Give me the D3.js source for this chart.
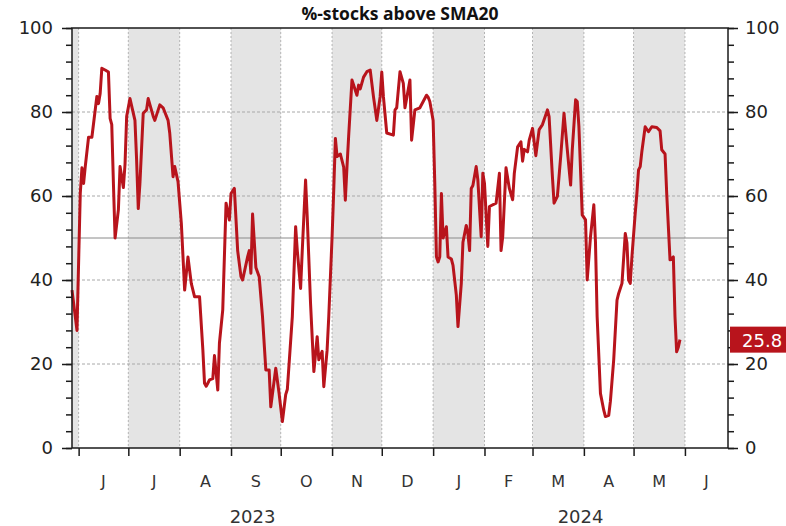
<!DOCTYPE html>
<html>
<head>
<meta charset="utf-8">
<script src="https://cdn.jsdelivr.net/npm/d3@7"></script>
<style>
  body { margin: 0; background: #fff; }
  svg { display: block; }
</style>
</head>
<body>
<svg width="786" height="526"></svg>
<script>
// values
const dates = [
  "2023-05-28","2023-05-31","2023-06-02","2023-06-03","2023-06-04","2023-06-05","2023-06-07","2023-06-09",
  "2023-06-12","2023-06-13","2023-06-14","2023-06-15","2023-06-17","2023-06-19","2023-06-20","2023-06-21",
  "2023-06-22","2023-06-23","2023-06-25","2023-06-26","2023-06-28","2023-06-29","2023-06-30","2023-07-02",
  "2023-07-05","2023-07-06","2023-07-07","2023-07-08","2023-07-10","2023-07-12","2023-07-13","2023-07-16",
  "2023-07-17","2023-07-20","2023-07-22","2023-07-25","2023-07-26","2023-07-28","2023-07-29","2023-07-31",
  "2023-08-02","2023-08-04","2023-08-06","2023-08-08","2023-08-10","2023-08-13","2023-08-15","2023-08-16",
  "2023-08-17","2023-08-19","2023-08-21","2023-08-22","2023-08-24","2023-08-25","2023-08-27","2023-08-29",
  "2023-08-31","2023-09-01","2023-09-03","2023-09-05","2023-09-07","2023-09-08","2023-09-11","2023-09-12",
  "2023-09-13","2023-09-14","2023-09-16","2023-09-18","2023-09-20","2023-09-22","2023-09-24","2023-09-25",
  "2023-09-28","2023-09-30","2023-10-02","2023-10-04","2023-10-05","2023-10-08","2023-10-10","2023-10-11",
  "2023-10-13","2023-10-14","2023-10-16","2023-10-17","2023-10-19","2023-10-21","2023-10-23","2023-10-24",
  "2023-10-26","2023-10-27","2023-10-29","2023-10-30","2023-11-01","2023-11-02","2023-11-03","2023-11-04",
  "2023-11-06","2023-11-08","2023-11-09","2023-11-10","2023-11-11","2023-11-13","2023-11-16","2023-11-17",
  "2023-11-18","2023-11-20","2023-11-22","2023-11-24","2023-11-25","2023-11-26","2023-11-28","2023-11-30",
  "2023-12-01","2023-12-02","2023-12-04","2023-12-08","2023-12-09","2023-12-10","2023-12-12","2023-12-14",
  "2023-12-15","2023-12-18","2023-12-19","2023-12-21","2023-12-24","2023-12-26","2023-12-28","2023-12-29",
  "2023-12-30","2024-01-01","2024-01-02","2024-01-03","2024-01-04","2024-01-05","2024-01-06","2024-01-07",
  "2024-01-09","2024-01-10","2024-01-12","2024-01-13","2024-01-15","2024-01-16","2024-01-18","2024-01-19",
  "2024-01-21","2024-01-22","2024-01-23","2024-01-24","2024-01-25","2024-01-27","2024-01-28","2024-01-30",
  "2024-01-31","2024-02-01","2024-02-03","2024-02-04","2024-02-08","2024-02-10","2024-02-11","2024-02-12",
  "2024-02-14","2024-02-16","2024-02-18","2024-02-19","2024-02-21","2024-02-23","2024-02-24","2024-02-25",
  "2024-02-27","2024-02-28","2024-03-01","2024-03-03","2024-03-05","2024-03-07","2024-03-10","2024-03-11",
  "2024-03-13","2024-03-14","2024-03-16","2024-03-18","2024-03-20","2024-03-22","2024-03-24","2024-03-25",
  "2024-03-27","2024-03-28","2024-03-29","2024-03-31","2024-04-02","2024-04-03","2024-04-05","2024-04-07",
  "2024-04-08","2024-04-09","2024-04-11","2024-04-13","2024-04-14","2024-04-16","2024-04-17","2024-04-19",
  "2024-04-21","2024-04-22","2024-04-24","2024-04-26","2024-04-27","2024-04-28","2024-04-29","2024-04-30",
  "2024-05-02","2024-05-03","2024-05-04","2024-05-05","2024-05-06","2024-05-08","2024-05-10","2024-05-12",
  "2024-05-15","2024-05-17","2024-05-18","2024-05-20","2024-05-21","2024-05-23","2024-05-25","2024-05-26",
  "2024-05-27","2024-05-28","2024-05-29"
];
const values = [
  37.6,28,60.7,66.7,63,67,74,74,
  83.7,82,84.4,90.4,90,89.5,78.5,77,
  63,50,56.7,67,62,67.5,79,83.2,
  78,68.6,57,63,79.7,80.5,83.2,79,
  78,81.7,81,78,75,64.6,67,63.4,
  53.5,37.6,45.5,39.2,36,36,23.3,15.4,
  14.7,16.2,16.5,22,13.8,25,32.9,58.3,
  54.3,60.6,61.8,47,40.8,40,45.5,47,
  41.6,55.7,43,40.8,31.3,18.6,18.6,9.8,
  19,13,6.3,12.7,14,31.3,52.7,47,
  38,47,63.8,55,34.4,18.2,26.5,21,
  23,14.6,23.3,31.3,50.3,61.4,73.7,69.4,
  70,66.9,59,67,74.2,87.6,84,86.4,
  85.5,88.3,89.6,90,86.8,83.6,78,83.6,
  89.5,83.6,75,74.5,80.5,81,89.6,86.8,
  81,87.6,73.3,80.5,81,82.5,84,83.5,
  82.5,78,63,45.5,44.3,45.5,60.6,50,
  52.7,45.5,45,43.5,36.4,28.9,39.2,49,
  53,51,47,61.8,62.5,67,63.8,50.3,
  65.4,63,48,57.5,58.3,65.4,47,50.3,
  66.7,61.8,59.1,65.4,71.7,72.9,68.3,71.1,
  70.5,73.3,76.1,69.6,75.8,77,80.5,78.9,
  64.6,58.3,59.9,69.4,79.7,71,62.6,71,
  82.9,82.5,76.5,55.5,54.3,40,50.3,57.9,
  49,31.3,13,9,7.5,7.8,11.1,21,
  35.2,36.8,39.2,51.1,48.8,40,39.2,45.5,
  55.9,60.6,66.2,67,70.6,76.5,75.3,76.5,
  76.3,75.5,71,70,60.6,44.8,45.5,31.3,
  22.9,24,25.8
];
const yTicks = [0, 20, 40, 60, 80, 100];
const monthLetters = ["J","F","M","A","M","J","J","A","S","O","N","D"];
const chartTitle = "%-stocks above SMA20";
const refLevel = 50;
const xStart = "2023-05-28", xEnd = "2024-06-27";

const svg = d3.select("svg");
const parse = d3.timeParse("%Y-%m-%d");
const data = dates.map((d, i) => ({ date: parse(d), value: values[i] }));

const plotLeft = 72, plotRight = 728, plotTop = 28, plotBottom = 448;
const t0 = parse(xStart), t1 = parse(xEnd);

const x = d3.scaleTime().domain([t0, t1]).range([plotLeft, plotRight]);
const y = d3.scaleLinear().domain([0, 100]).range([plotBottom, plotTop]);

// month segments (visible part of each month)
const months = d3.timeMonth.range(d3.timeMonth.floor(t0), t1).map(m => {
  const a = m < t0 ? t0 : m;
  const n = d3.timeMonth.offset(m, 1);
  const b = n > t1 ? t1 : n;
  return { m: m, x0: x(a), x1: x(b) };
});

svg.selectAll("rect.band")
  .data(months.filter(d => d.m.getMonth() % 2 === 0))
  .enter().append("rect")
  .attr("class", "band")
  .attr("x", d => d.x0)
  .attr("y", plotTop)
  .attr("width", d => d.x1 - d.x0)
  .attr("height", plotBottom - plotTop)
  .attr("fill", "#e4e4e4");

const monthStarts = months.map(d => d.m).filter(m => m >= t0);

svg.selectAll("line.vgrid")
  .data(monthStarts)
  .enter().append("line")
  .attr("x1", d => x(d)).attr("x2", d => x(d))
  .attr("y1", plotTop).attr("y2", plotBottom)
  .attr("stroke", "#b4b4b4")
  .attr("stroke-dasharray", "2,2");

svg.selectAll("line.hgrid")
  .data(yTicks.filter(v => v > 0 && v < 100))
  .enter().append("line")
  .attr("x1", plotLeft).attr("x2", plotRight)
  .attr("y1", d => y(d)).attr("y2", d => y(d))
  .attr("stroke", "#a8a8a8")
  .attr("stroke-dasharray", "3,2");

svg.append("line")
  .attr("x1", plotLeft).attr("x2", plotRight)
  .attr("y1", y(refLevel)).attr("y2", y(refLevel))
  .attr("stroke", "#8a8a8a")
  .attr("stroke-width", 1);

// the series
const line = d3.line()
  .x(d => x(d.date))
  .y(d => y(d.value));

svg.append("path")
  .datum(data)
  .attr("fill", "none")
  .attr("stroke", "#b8141c")
  .attr("stroke-width", 3)
  .attr("stroke-linejoin", "round")
  .attr("d", line);

// frame
svg.append("rect")
  .attr("x", plotLeft).attr("y", plotTop)
  .attr("width", plotRight - plotLeft).attr("height", plotBottom - plotTop)
  .attr("fill", "none")
  .attr("stroke", "#1a1a1a")
  .attr("stroke-width", 1.5);

// axes
function styleAxis(g) {
  g.select(".domain").remove();
  g.selectAll("line").attr("stroke", "#1a1a1a").attr("stroke-width", 1.5);
}
const minor = d3.range(0, 101, 4);

svg.append("g").attr("transform", `translate(${plotLeft},0)`)
  .call(d3.axisLeft(y).tickValues(minor).tickSize(6).tickFormat("")).call(styleAxis);
svg.append("g").attr("transform", `translate(${plotLeft},0)`)
  .call(d3.axisLeft(y).tickValues(yTicks).tickSize(10).tickPadding(9)).call(styleAxis)
  .selectAll("text").attr("font-family", "DejaVu Sans").attr("font-size", 18).attr("fill", "#222");

svg.append("g").attr("transform", `translate(${plotRight},0)`)
  .call(d3.axisRight(y).tickValues(minor).tickSize(6).tickFormat("")).call(styleAxis);
svg.append("g").attr("transform", `translate(${plotRight},0)`)
  .call(d3.axisRight(y).tickValues(yTicks).tickSize(10).tickPadding(7)).call(styleAxis)
  .selectAll("text").attr("font-family", "DejaVu Sans").attr("font-size", 18).attr("fill", "#222");

svg.append("g").attr("transform", `translate(0,${plotBottom})`)
  .call(d3.axisBottom(x).tickValues(monthStarts).tickSize(8).tickFormat("")).call(styleAxis);

svg.selectAll("text.month")
  .data(months.filter(d => d.x1 - d.x0 > 20))
  .enter().append("text")
  .attr("x", d => (d.x0 + d.x1) / 2)
  .attr("y", 487)
  .attr("text-anchor", "middle")
  .attr("font-family", "DejaVu Sans")
  .attr("font-size", 16)
  .attr("fill", "#333")
  .text(d => monthLetters[d.m.getMonth()]);

const years = d3.timeYear.range(d3.timeYear.floor(t0), t1).map(yr => {
  const a = yr < t0 ? t0 : yr;
  const n = d3.timeYear.offset(yr, 1);
  const b = n > t1 ? t1 : n;
  return { yr: yr, cx: (x(a) + x(b)) / 2 };
});
svg.selectAll("text.year")
  .data(years)
  .enter().append("text")
  .attr("x", d => d.cx)
  .attr("y", 523)
  .attr("text-anchor", "middle")
  .attr("font-family", "DejaVu Sans")
  .attr("font-size", 18)
  .attr("fill", "#333")
  .text(d => d.yr.getFullYear());

svg.append("text")
  .attr("x", (plotLeft + plotRight) / 2)
  .attr("y", 20)
  .attr("text-anchor", "middle")
  .attr("font-family", "Open Sans")
  .attr("font-weight", "bold")
  .attr("font-size", 17.5)
  .attr("fill", "#111")
  .text(chartTitle);

// last value label
const last = data[data.length - 1];
svg.append("rect")
  .attr("x", plotRight + 2)
  .attr("y", y(last.value) - 13)
  .attr("width", 60)
  .attr("height", 26)
  .attr("fill", "#b8141c");
svg.append("text")
  .attr("x", plotRight + 14)
  .attr("y", y(last.value) + 7)
  .attr("font-family", "DejaVu Sans")
  .attr("font-size", 18)
  .attr("fill", "#fff")
  .text(last.value.toFixed(1));
</script>
</body>
</html>
